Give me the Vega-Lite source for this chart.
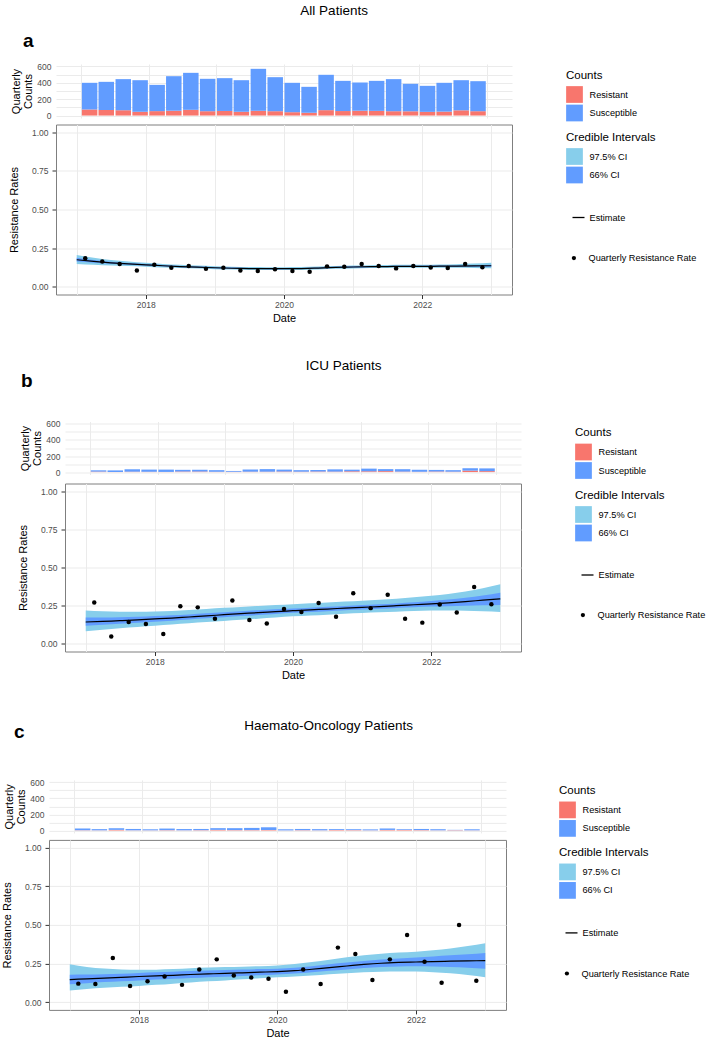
{
  "$schema": "https://vega.github.io/schema/vega-lite/v6.json",
  "background": "white",
  "padding": {"left": 0, "top": 3, "right": 0, "bottom": 2},
  "config": {
    "font": "Liberation Sans",
    "view": {"stroke": null},
    "axis": {"labelFont": "Liberation Sans", "labelFontSize": 8.5, "labelColor": "#4D4D4D", "titleFont": "Liberation Sans", "titleFontSize": 11, "titleFontWeight": "normal", "titleColor": "black", "gridColor": "#EBEBEB", "gridWidth": 1, "tickColor": "#333333", "domain": false, "labelOverlap": false},
    "legend": {"titleFont": "Liberation Sans", "labelFont": "Liberation Sans", "titleFontSize": 11.5, "titleFontWeight": "normal", "titleColor": "black", "labelFontSize": 9.2, "labelColor": "black", "padding": 0},
    "title": {"font": "Liberation Sans", "color": "black"}
  },
  "datasets": {
    "quarters": [
      {"g":"a","date":"2017-02-15","Resistant":74,"Susceptible":326,"rate":0.184},
      {"g":"a","date":"2017-05-16","Resistant":68,"Susceptible":344,"rate":0.164},
      {"g":"a","date":"2017-08-16","Resistant":65,"Susceptible":380,"rate":0.147},
      {"g":"a","date":"2017-11-15","Resistant":46,"Susceptible":386,"rate":0.106},
      {"g":"a","date":"2018-02-15","Resistant":54,"Susceptible":321,"rate":0.143},
      {"g":"a","date":"2018-05-16","Resistant":59,"Susceptible":422,"rate":0.123},
      {"g":"a","date":"2018-08-16","Resistant":70,"Susceptible":452,"rate":0.134},
      {"g":"a","date":"2018-11-15","Resistant":53,"Susceptible":396,"rate":0.117},
      {"g":"a","date":"2019-02-15","Resistant":56,"Susceptible":401,"rate":0.123},
      {"g":"a","date":"2019-05-16","Resistant":46,"Susceptible":386,"rate":0.106},
      {"g":"a","date":"2019-08-16","Resistant":58,"Susceptible":513,"rate":0.102},
      {"g":"a","date":"2019-11-15","Resistant":53,"Susceptible":416,"rate":0.114},
      {"g":"a","date":"2020-02-15","Resistant":41,"Susceptible":359,"rate":0.102},
      {"g":"a","date":"2020-05-16","Resistant":34,"Susceptible":317,"rate":0.097},
      {"g":"a","date":"2020-08-16","Resistant":66,"Susceptible":432,"rate":0.132},
      {"g":"a","date":"2020-11-15","Resistant":55,"Susceptible":369,"rate":0.130},
      {"g":"a","date":"2021-02-15","Resistant":59,"Susceptible":345,"rate":0.147},
      {"g":"a","date":"2021-05-16","Resistant":57,"Susceptible":367,"rate":0.134},
      {"g":"a","date":"2021-08-16","Resistant":53,"Susceptible":392,"rate":0.119},
      {"g":"a","date":"2021-11-15","Resistant":52,"Susceptible":336,"rate":0.134},
      {"g":"a","date":"2022-02-15","Resistant":45,"Susceptible":318,"rate":0.125},
      {"g":"a","date":"2022-05-16","Resistant":48,"Susceptible":352,"rate":0.121},
      {"g":"a","date":"2022-08-16","Resistant":64,"Susceptible":368,"rate":0.147},
      {"g":"a","date":"2022-11-15","Resistant":53,"Susceptible":367,"rate":0.127},
      {"g":"b","date":"2017-02-15","Resistant":6,"Susceptible":16,"rate":0.271},
      {"g":"b","date":"2017-05-16","Resistant":1,"Susceptible":20,"rate":0.048},
      {"g":"b","date":"2017-08-16","Resistant":5,"Susceptible":30,"rate":0.143},
      {"g":"b","date":"2017-11-15","Resistant":4,"Susceptible":27,"rate":0.130},
      {"g":"b","date":"2018-02-15","Resistant":2,"Susceptible":29,"rate":0.065},
      {"g":"b","date":"2018-05-16","Resistant":7,"Susceptible":21,"rate":0.247},
      {"g":"b","date":"2018-08-16","Resistant":7,"Susceptible":22,"rate":0.239},
      {"g":"b","date":"2018-11-15","Resistant":4,"Susceptible":20,"rate":0.165},
      {"g":"b","date":"2019-02-15","Resistant":4,"Susceptible":10,"rate":0.284},
      {"g":"b","date":"2019-05-16","Resistant":5,"Susceptible":27,"rate":0.156},
      {"g":"b","date":"2019-08-16","Resistant":5,"Susceptible":32,"rate":0.134},
      {"g":"b","date":"2019-11-15","Resistant":7,"Susceptible":24,"rate":0.228},
      {"g":"b","date":"2020-02-15","Resistant":5,"Susceptible":19,"rate":0.208},
      {"g":"b","date":"2020-05-16","Resistant":7,"Susceptible":19,"rate":0.267},
      {"g":"b","date":"2020-08-16","Resistant":6,"Susceptible":28,"rate":0.178},
      {"g":"b","date":"2020-11-15","Resistant":10,"Susceptible":20,"rate":0.332},
      {"g":"b","date":"2021-02-15","Resistant":10,"Susceptible":33,"rate":0.234},
      {"g":"b","date":"2021-05-16","Resistant":12,"Susceptible":25,"rate":0.321},
      {"g":"b","date":"2021-08-16","Resistant":6,"Susceptible":30,"rate":0.165},
      {"g":"b","date":"2021-11-15","Resistant":4,"Susceptible":25,"rate":0.139},
      {"g":"b","date":"2022-02-15","Resistant":7,"Susceptible":20,"rate":0.258},
      {"g":"b","date":"2022-05-16","Resistant":5,"Susceptible":19,"rate":0.206},
      {"g":"b","date":"2022-08-16","Resistant":18,"Susceptible":30,"rate":0.373},
      {"g":"b","date":"2022-11-15","Resistant":12,"Susceptible":34,"rate":0.260},
      {"g":"c","date":"2017-02-15","Resistant":3,"Susceptible":22,"rate":0.120},
      {"g":"c","date":"2017-05-16","Resistant":2,"Susceptible":15,"rate":0.118},
      {"g":"c","date":"2017-08-16","Resistant":8,"Susceptible":20,"rate":0.286},
      {"g":"c","date":"2017-11-15","Resistant":2,"Susceptible":17,"rate":0.105},
      {"g":"c","date":"2018-02-15","Resistant":2,"Susceptible":13,"rate":0.135},
      {"g":"c","date":"2018-05-16","Resistant":4,"Susceptible":20,"rate":0.166},
      {"g":"c","date":"2018-08-16","Resistant":2,"Susceptible":16,"rate":0.112},
      {"g":"c","date":"2018-11-15","Resistant":4,"Susceptible":15,"rate":0.211},
      {"g":"c","date":"2019-02-15","Resistant":8,"Susceptible":21,"rate":0.277},
      {"g":"c","date":"2019-05-16","Resistant":5,"Susceptible":24,"rate":0.172},
      {"g":"c","date":"2019-08-16","Resistant":5,"Susceptible":27,"rate":0.159},
      {"g":"c","date":"2019-11-15","Resistant":6,"Susceptible":34,"rate":0.151},
      {"g":"c","date":"2020-02-15","Resistant":1,"Susceptible":14,"rate":0.067},
      {"g":"c","date":"2020-05-16","Resistant":4,"Susceptible":15,"rate":0.211},
      {"g":"c","date":"2020-08-16","Resistant":2,"Susceptible":15,"rate":0.118},
      {"g":"c","date":"2020-11-15","Resistant":6,"Susceptible":11,"rate":0.353},
      {"g":"c","date":"2021-02-15","Resistant":5,"Susceptible":11,"rate":0.312},
      {"g":"c","date":"2021-05-16","Resistant":2,"Susceptible":12,"rate":0.144},
      {"g":"c","date":"2021-08-16","Resistant":7,"Susceptible":18,"rate":0.277},
      {"g":"c","date":"2021-11-15","Resistant":7,"Susceptible":9,"rate":0.434},
      {"g":"c","date":"2022-02-15","Resistant":5,"Susceptible":14,"rate":0.262},
      {"g":"c","date":"2022-05-16","Resistant":2,"Susceptible":14,"rate":0.125},
      {"g":"c","date":"2022-08-16","Resistant":4,"Susceptible":4,"rate":0.499},
      {"g":"c","date":"2022-11-15","Resistant":2,"Susceptible":13,"rate":0.138}
    ],
    "est": [
      {"g":"a","date":"2017-01-01","est":0.175,"lo97":0.148,"hi97":0.205,"lo66":0.163,"hi66":0.188},
      {"g":"a","date":"2017-04-01","est":0.164,"lo97":0.143,"hi97":0.187,"lo66":0.156,"hi66":0.173},
      {"g":"a","date":"2017-07-01","est":0.155,"lo97":0.138,"hi97":0.173,"lo66":0.149,"hi66":0.162},
      {"g":"a","date":"2017-10-01","est":0.148,"lo97":0.134,"hi97":0.163,"lo66":0.143,"hi66":0.154},
      {"g":"a","date":"2018-01-01","est":0.142,"lo97":0.130,"hi97":0.155,"lo66":0.137,"hi66":0.147},
      {"g":"a","date":"2018-04-01","est":0.136,"lo97":0.125,"hi97":0.148,"lo66":0.132,"hi66":0.141},
      {"g":"a","date":"2018-07-01","est":0.131,"lo97":0.121,"hi97":0.142,"lo66":0.127,"hi66":0.135},
      {"g":"a","date":"2018-10-01","est":0.127,"lo97":0.118,"hi97":0.137,"lo66":0.123,"hi66":0.131},
      {"g":"a","date":"2019-01-01","est":0.123,"lo97":0.114,"hi97":0.133,"lo66":0.120,"hi66":0.127},
      {"g":"a","date":"2019-04-01","est":0.120,"lo97":0.111,"hi97":0.130,"lo66":0.117,"hi66":0.124},
      {"g":"a","date":"2019-07-01","est":0.118,"lo97":0.109,"hi97":0.128,"lo66":0.115,"hi66":0.122},
      {"g":"a","date":"2019-10-01","est":0.117,"lo97":0.108,"hi97":0.127,"lo66":0.114,"hi66":0.121},
      {"g":"a","date":"2020-01-01","est":0.117,"lo97":0.108,"hi97":0.127,"lo66":0.114,"hi66":0.121},
      {"g":"a","date":"2020-04-01","est":0.118,"lo97":0.109,"hi97":0.128,"lo66":0.115,"hi66":0.122},
      {"g":"a","date":"2020-07-01","est":0.121,"lo97":0.112,"hi97":0.131,"lo66":0.118,"hi66":0.125},
      {"g":"a","date":"2020-10-01","est":0.125,"lo97":0.116,"hi97":0.135,"lo66":0.122,"hi66":0.129},
      {"g":"a","date":"2021-01-01","est":0.128,"lo97":0.119,"hi97":0.138,"lo66":0.125,"hi66":0.132},
      {"g":"a","date":"2021-04-01","est":0.130,"lo97":0.121,"hi97":0.140,"lo66":0.127,"hi66":0.134},
      {"g":"a","date":"2021-07-01","est":0.131,"lo97":0.122,"hi97":0.141,"lo66":0.128,"hi66":0.135},
      {"g":"a","date":"2021-10-01","est":0.132,"lo97":0.123,"hi97":0.142,"lo66":0.129,"hi66":0.136},
      {"g":"a","date":"2022-01-01","est":0.132,"lo97":0.123,"hi97":0.142,"lo66":0.129,"hi66":0.136},
      {"g":"a","date":"2022-04-01","est":0.133,"lo97":0.123,"hi97":0.144,"lo66":0.129,"hi66":0.137},
      {"g":"a","date":"2022-07-01","est":0.134,"lo97":0.123,"hi97":0.146,"lo66":0.130,"hi66":0.138},
      {"g":"a","date":"2022-10-01","est":0.135,"lo97":0.122,"hi97":0.150,"lo66":0.130,"hi66":0.140},
      {"g":"a","date":"2023-01-01","est":0.136,"lo97":0.120,"hi97":0.155,"lo66":0.130,"hi66":0.143},
      {"g":"b","date":"2017-01-01","est":0.143,"lo97":0.082,"hi97":0.218,"lo66":0.118,"hi66":0.172},
      {"g":"b","date":"2017-04-01","est":0.147,"lo97":0.093,"hi97":0.213,"lo66":0.125,"hi66":0.172},
      {"g":"b","date":"2017-07-01","est":0.152,"lo97":0.103,"hi97":0.210,"lo66":0.132,"hi66":0.174},
      {"g":"b","date":"2017-10-01","est":0.157,"lo97":0.111,"hi97":0.210,"lo66":0.139,"hi66":0.177},
      {"g":"b","date":"2018-01-01","est":0.163,"lo97":0.119,"hi97":0.212,"lo66":0.145,"hi66":0.182},
      {"g":"b","date":"2018-04-01","est":0.169,"lo97":0.127,"hi97":0.216,"lo66":0.152,"hi66":0.187},
      {"g":"b","date":"2018-07-01","est":0.176,"lo97":0.135,"hi97":0.221,"lo66":0.160,"hi66":0.193},
      {"g":"b","date":"2018-10-01","est":0.183,"lo97":0.143,"hi97":0.228,"lo66":0.167,"hi66":0.200},
      {"g":"b","date":"2019-01-01","est":0.191,"lo97":0.150,"hi97":0.236,"lo66":0.175,"hi66":0.207},
      {"g":"b","date":"2019-04-01","est":0.198,"lo97":0.158,"hi97":0.242,"lo66":0.182,"hi66":0.214},
      {"g":"b","date":"2019-07-01","est":0.204,"lo97":0.165,"hi97":0.248,"lo66":0.189,"hi66":0.220},
      {"g":"b","date":"2019-10-01","est":0.211,"lo97":0.172,"hi97":0.254,"lo66":0.196,"hi66":0.226},
      {"g":"b","date":"2020-01-01","est":0.217,"lo97":0.180,"hi97":0.260,"lo66":0.203,"hi66":0.232},
      {"g":"b","date":"2020-04-01","est":0.223,"lo97":0.186,"hi97":0.266,"lo66":0.209,"hi66":0.237},
      {"g":"b","date":"2020-07-01","est":0.228,"lo97":0.191,"hi97":0.271,"lo66":0.214,"hi66":0.243},
      {"g":"b","date":"2020-10-01","est":0.234,"lo97":0.197,"hi97":0.277,"lo66":0.220,"hi66":0.248},
      {"g":"b","date":"2021-01-01","est":0.239,"lo97":0.202,"hi97":0.282,"lo66":0.225,"hi66":0.254},
      {"g":"b","date":"2021-04-01","est":0.244,"lo97":0.207,"hi97":0.289,"lo66":0.230,"hi66":0.259},
      {"g":"b","date":"2021-07-01","est":0.250,"lo97":0.211,"hi97":0.296,"lo66":0.235,"hi66":0.265},
      {"g":"b","date":"2021-10-01","est":0.256,"lo97":0.215,"hi97":0.305,"lo66":0.240,"hi66":0.272},
      {"g":"b","date":"2022-01-01","est":0.262,"lo97":0.219,"hi97":0.315,"lo66":0.244,"hi66":0.280},
      {"g":"b","date":"2022-04-01","est":0.269,"lo97":0.219,"hi97":0.327,"lo66":0.247,"hi66":0.290},
      {"g":"b","date":"2022-07-01","est":0.277,"lo97":0.217,"hi97":0.343,"lo66":0.250,"hi66":0.302},
      {"g":"b","date":"2022-10-01","est":0.286,"lo97":0.213,"hi97":0.364,"lo66":0.253,"hi66":0.317},
      {"g":"b","date":"2023-01-01","est":0.295,"lo97":0.208,"hi97":0.390,"lo66":0.255,"hi66":0.335},
      {"g":"c","date":"2017-01-01","est":0.146,"lo97":0.075,"hi97":0.245,"lo66":0.116,"hi66":0.178},
      {"g":"c","date":"2017-04-01","est":0.151,"lo97":0.086,"hi97":0.228,"lo66":0.123,"hi66":0.179},
      {"g":"c","date":"2017-07-01","est":0.156,"lo97":0.094,"hi97":0.218,"lo66":0.130,"hi66":0.181},
      {"g":"c","date":"2017-10-01","est":0.161,"lo97":0.100,"hi97":0.212,"lo66":0.136,"hi66":0.184},
      {"g":"c","date":"2018-01-01","est":0.166,"lo97":0.105,"hi97":0.209,"lo66":0.141,"hi66":0.189},
      {"g":"c","date":"2018-04-01","est":0.170,"lo97":0.112,"hi97":0.210,"lo66":0.146,"hi66":0.193},
      {"g":"c","date":"2018-07-01","est":0.174,"lo97":0.120,"hi97":0.214,"lo66":0.151,"hi66":0.197},
      {"g":"c","date":"2018-10-01","est":0.179,"lo97":0.128,"hi97":0.219,"lo66":0.156,"hi66":0.201},
      {"g":"c","date":"2019-01-01","est":0.183,"lo97":0.135,"hi97":0.224,"lo66":0.161,"hi66":0.205},
      {"g":"c","date":"2019-04-01","est":0.186,"lo97":0.141,"hi97":0.227,"lo66":0.165,"hi66":0.208},
      {"g":"c","date":"2019-07-01","est":0.190,"lo97":0.148,"hi97":0.230,"lo66":0.170,"hi66":0.211},
      {"g":"c","date":"2019-10-01","est":0.194,"lo97":0.155,"hi97":0.233,"lo66":0.174,"hi66":0.214},
      {"g":"c","date":"2020-01-01","est":0.198,"lo97":0.161,"hi97":0.237,"lo66":0.179,"hi66":0.217},
      {"g":"c","date":"2020-04-01","est":0.204,"lo97":0.166,"hi97":0.247,"lo66":0.185,"hi66":0.223},
      {"g":"c","date":"2020-07-01","est":0.213,"lo97":0.172,"hi97":0.260,"lo66":0.193,"hi66":0.233},
      {"g":"c","date":"2020-10-01","est":0.224,"lo97":0.180,"hi97":0.275,"lo66":0.203,"hi66":0.245},
      {"g":"c","date":"2021-01-01","est":0.234,"lo97":0.187,"hi97":0.290,"lo66":0.212,"hi66":0.256},
      {"g":"c","date":"2021-04-01","est":0.244,"lo97":0.193,"hi97":0.303,"lo66":0.221,"hi66":0.267},
      {"g":"c","date":"2021-07-01","est":0.252,"lo97":0.197,"hi97":0.313,"lo66":0.228,"hi66":0.276},
      {"g":"c","date":"2021-10-01","est":0.257,"lo97":0.199,"hi97":0.321,"lo66":0.231,"hi66":0.283},
      {"g":"c","date":"2022-01-01","est":0.260,"lo97":0.198,"hi97":0.327,"lo66":0.232,"hi66":0.289},
      {"g":"c","date":"2022-04-01","est":0.263,"lo97":0.194,"hi97":0.336,"lo66":0.231,"hi66":0.296},
      {"g":"c","date":"2022-07-01","est":0.265,"lo97":0.187,"hi97":0.348,"lo66":0.228,"hi66":0.303},
      {"g":"c","date":"2022-10-01","est":0.267,"lo97":0.176,"hi97":0.363,"lo66":0.223,"hi66":0.310},
      {"g":"c","date":"2023-01-01","est":0.269,"lo97":0.161,"hi97":0.381,"lo66":0.217,"hi66":0.318}
    ]
  },
  "spacing": 34.5,
  "resolve": {"scale": {"fill": "independent", "stroke": "independent", "shape": "independent"}},
  "vconcat": [
    {
      "spacing": 0,
      "resolve": {"scale": {"fill": "independent", "stroke": "independent", "shape": "independent"}},
      "hconcat": [
        {"width": 8, "height": 10, "data": {"values": []}, "mark": "point"},
        {
          "title": {"text": "All Patients", "anchor": "middle", "fontSize": 13.5, "fontWeight": "normal", "baseline": "alphabetic", "offset": 4, "dx": -18.5},
          "bounds": "flush",
          "spacing": 6.5,
          "resolve": {"scale": {"fill": "independent", "stroke": "independent", "shape": "independent"}},
          "vconcat": [
            {
              "width": 456, "height": 54,
              "title": {"text": "a", "anchor": "start", "frame": "group", "fontSize": 19, "fontWeight": "bold", "baseline": "alphabetic", "offset": -4, "dx": -33},
              "data": {"name": "quarters"},
              "transform": [{"filter": "datum.g == 'a'"}, {"fold": ["Resistant", "Susceptible"], "as": ["status", "n"]}],
              "mark": {"type": "bar", "width": 15.5},
              "encoding": {
                "x": {"field": "date", "type": "temporal", "scale": {"type": "utc", "domain": [{"year": 2016, "month": 9, "date": 13, "hours": 11, "utc": true}, {"year": 2023, "month": 4, "date": 20, "hours": 13, "utc": true}]}, "axis": {"values": [{"year": 2017, "utc": true}, {"year": 2018, "utc": true}, {"year": 2019, "utc": true}, {"year": 2020, "utc": true}, {"year": 2021, "utc": true}, {"year": 2022, "utc": true}, {"year": 2023, "utc": true}], "labels": false, "ticks": false, "title": null, "grid": true}},
                "y": {"field": "n", "type": "quantitative", "stack": "zero", "scale": {"domain": [-30, 630], "nice": false, "zero": false}, "axis": {"values": [0, 100, 200, 300, 400, 500, 600], "title": ["Quarterly", "Counts"], "titleLineHeight": 12.5, "grid": true, "ticks": false, "labelExpr": "datum.value % 200 == 0 ? format(datum.value, 'd') : ''", "labelPadding": 5, "titlePadding": 3}},
                "fill": {"field": "status", "type": "nominal", "scale": {"domain": ["Resistant", "Susceptible"], "range": ["#F8766D", "#619CFF"]}, "legend": {"title": "Counts", "orient": "none", "legendX": 510, "legendY": 5.5, "symbolType": "square", "symbolSize": 280, "symbolStrokeWidth": 0, "symbolOpacity": 1, "labelOffset": 6.5, "titlePadding": 5, "rowPadding": 1.5}},
                "order": {"field": "status", "sort": "ascending"}
              }
            },
            {
              "width": 456, "height": 170,
              "view": {"stroke": "#7F7F7F", "strokeWidth": 1},
              "encoding": {
                "x": {"field": "date", "type": "temporal", "scale": {"type": "utc", "domain": [{"year": 2016, "month": 9, "date": 13, "hours": 11, "utc": true}, {"year": 2023, "month": 4, "date": 20, "hours": 13, "utc": true}]}, "axis": {"values": [{"year": 2017, "utc": true}, {"year": 2018, "utc": true}, {"year": 2019, "utc": true}, {"year": 2020, "utc": true}, {"year": 2021, "utc": true}, {"year": 2022, "utc": true}, {"year": 2023, "utc": true}], "title": "Date", "grid": true, "labelExpr": "utcyear(datum.value) % 2 == 0 ? utcFormat(datum.value, '%Y') : ''", "tickOpacity": {"condition": {"test": "utcyear(datum.value) % 2 == 1", "value": 0}, "value": 1}, "tickSize": 4, "labelPadding": 2, "titlePadding": 3, "labelFlush": false}}
              },
              "layer": [
                {
                  "data": {"name": "est"},
                  "transform": [{"filter": "datum.g == 'a'"}],
                  "mark": {"type": "area", "interpolate": "monotone"},
                  "encoding": {
                    "y": {"field": "lo97", "type": "quantitative", "scale": {"domain": [-0.05, 1.05], "nice": false, "zero": false}, "axis": {"values": [0, 0.125, 0.25, 0.375, 0.5, 0.625, 0.75, 0.875, 1], "title": "Resistance Rates", "grid": true, "labelExpr": "datum.value * 4 % 1 == 0 ? format(datum.value, '.2f') : ''", "tickOpacity": {"condition": {"test": "datum.value * 4 % 1 != 0", "value": 0}, "value": 1}, "tickSize": 4, "labelPadding": 4, "titlePadding": 11.5}},
                    "y2": {"field": "hi97"},
                    "fill": {"datum": "97.5% CI", "scale": {"domain": ["97.5% CI", "66% CI"], "range": ["#87CEEB", "#619CFF"]}, "legend": {"title": "Credible Intervals", "orient": "none", "legendX": 510, "legendY": 7, "symbolType": "square", "symbolSize": 280, "symbolStrokeWidth": 0, "symbolOpacity": 1, "labelOffset": 6.5, "titlePadding": 5, "rowPadding": 1.5}}
                  }
                },
                {
                  "data": {"name": "est"},
                  "transform": [{"filter": "datum.g == 'a'"}],
                  "mark": {"type": "area", "interpolate": "monotone"},
                  "encoding": {"y": {"field": "lo66", "type": "quantitative"}, "y2": {"field": "hi66"}, "fill": {"datum": "66% CI"}}
                },
                {
                  "data": {"name": "est"},
                  "transform": [{"filter": "datum.g == 'a'"}],
                  "mark": {"type": "line", "interpolate": "monotone", "strokeWidth": 1.2},
                  "encoding": {"y": {"field": "est", "type": "quantitative"}, "stroke": {"datum": "Estimate", "scale": {"domain": ["Estimate"], "range": ["black"]}, "legend": {"title": null, "orient": "none", "legendX": 515.5, "legendY": 86, "symbolType": "stroke", "symbolSize": 144, "symbolStrokeWidth": 1.3, "labelOffset": 4}}}
                },
                {
                  "data": {"name": "quarters"},
                  "transform": [{"filter": "datum.g == 'a'"}],
                  "mark": {"type": "point", "filled": true, "size": 20, "opacity": 1, "color": "black"},
                  "encoding": {"y": {"field": "rate", "type": "quantitative"}, "shape": {"datum": "Quarterly Resistance Rate", "scale": {"domain": ["Quarterly Resistance Rate"], "range": ["circle"]}, "legend": {"title": null, "orient": "none", "legendX": 513.3, "legendY": 129, "symbolSize": 18, "symbolFillColor": "black", "symbolStrokeWidth": 0, "symbolOpacity": 1, "labelOffset": 10}}}
                }
              ]
            }
          ]
        }
      ]
    },
    {
      "spacing": 37.4,
      "resolve": {"scale": {"fill": "independent", "stroke": "independent", "shape": "independent"}},
      "vconcat": [
        {
          "spacing": 0,
          "resolve": {"scale": {"fill": "independent", "stroke": "independent", "shape": "independent"}},
          "hconcat": [
            {"width": 17, "height": 10, "data": {"values": []}, "mark": "point"},
            {
              "title": {"text": "ICU Patients", "anchor": "middle", "fontSize": 13.5, "fontWeight": "normal", "baseline": "alphabetic", "offset": -12, "dx": -18},
              "bounds": "flush",
              "spacing": 9,
              "resolve": {"scale": {"fill": "independent", "stroke": "independent", "shape": "independent"}},
              "vconcat": [
                {
                  "width": 456, "height": 53,
                  "title": {"text": "b", "anchor": "start", "frame": "group", "fontSize": 19, "fontWeight": "bold", "baseline": "alphabetic", "offset": 14.2, "dx": -44},
                  "data": {"name": "quarters"},
                  "transform": [{"filter": "datum.g == 'b'"}, {"fold": ["Resistant", "Susceptible"], "as": ["status", "n"]}],
                  "mark": {"type": "bar", "width": 15.5},
                  "encoding": {
                    "x": {"field": "date", "type": "temporal", "scale": {"type": "utc", "domain": [{"year": 2016, "month": 9, "date": 13, "hours": 11, "utc": true}, {"year": 2023, "month": 4, "date": 20, "hours": 13, "utc": true}]}, "axis": {"values": [{"year": 2017, "utc": true}, {"year": 2018, "utc": true}, {"year": 2019, "utc": true}, {"year": 2020, "utc": true}, {"year": 2021, "utc": true}, {"year": 2022, "utc": true}, {"year": 2023, "utc": true}], "labels": false, "ticks": false, "title": null, "grid": true}},
                    "y": {"field": "n", "type": "quantitative", "stack": "zero", "scale": {"domain": [-30, 630], "nice": false, "zero": false}, "axis": {"values": [0, 100, 200, 300, 400, 500, 600], "title": ["Quarterly", "Counts"], "titleLineHeight": 12.5, "grid": true, "ticks": false, "labelExpr": "datum.value % 200 == 0 ? format(datum.value, 'd') : ''", "labelPadding": 5, "titlePadding": 3}},
                    "fill": {"field": "status", "type": "nominal", "scale": {"domain": ["Resistant", "Susceptible"], "range": ["#F8766D", "#619CFF"]}, "legend": {"title": "Counts", "orient": "none", "legendX": 510, "legendY": 5.5, "symbolType": "square", "symbolSize": 280, "symbolStrokeWidth": 0, "symbolOpacity": 1, "labelOffset": 6.5, "titlePadding": 5, "rowPadding": 1.5}},
                    "order": {"field": "status", "sort": "ascending"}
                  }
                },
                {
                  "width": 456, "height": 168,
                  "view": {"stroke": "#7F7F7F", "strokeWidth": 1},
                  "encoding": {
                    "x": {"field": "date", "type": "temporal", "scale": {"type": "utc", "domain": [{"year": 2016, "month": 9, "date": 13, "hours": 11, "utc": true}, {"year": 2023, "month": 4, "date": 20, "hours": 13, "utc": true}]}, "axis": {"values": [{"year": 2017, "utc": true}, {"year": 2018, "utc": true}, {"year": 2019, "utc": true}, {"year": 2020, "utc": true}, {"year": 2021, "utc": true}, {"year": 2022, "utc": true}, {"year": 2023, "utc": true}], "title": "Date", "grid": true, "labelExpr": "utcyear(datum.value) % 2 == 0 ? utcFormat(datum.value, '%Y') : ''", "tickOpacity": {"condition": {"test": "utcyear(datum.value) % 2 == 1", "value": 0}, "value": 1}, "tickSize": 4, "labelPadding": 2, "titlePadding": 3, "labelFlush": false}}
                  },
                  "layer": [
                    {
                      "data": {"name": "est"},
                      "transform": [{"filter": "datum.g == 'b'"}],
                      "mark": {"type": "area", "interpolate": "monotone"},
                      "encoding": {
                        "y": {"field": "lo97", "type": "quantitative", "scale": {"domain": [-0.05, 1.05], "nice": false, "zero": false}, "axis": {"values": [0, 0.125, 0.25, 0.375, 0.5, 0.625, 0.75, 0.875, 1], "title": "Resistance Rates", "grid": true, "labelExpr": "datum.value * 4 % 1 == 0 ? format(datum.value, '.2f') : ''", "tickOpacity": {"condition": {"test": "datum.value * 4 % 1 != 0", "value": 0}, "value": 1}, "tickSize": 4, "labelPadding": 4, "titlePadding": 11.5}},
                        "y2": {"field": "hi97"},
                        "fill": {"datum": "97.5% CI", "scale": {"domain": ["97.5% CI", "66% CI"], "range": ["#87CEEB", "#619CFF"]}, "legend": {"title": "Credible Intervals", "orient": "none", "legendX": 510, "legendY": 6, "symbolType": "square", "symbolSize": 280, "symbolStrokeWidth": 0, "symbolOpacity": 1, "labelOffset": 6.5, "titlePadding": 5, "rowPadding": 1.5}}
                      }
                    },
                    {
                      "data": {"name": "est"},
                      "transform": [{"filter": "datum.g == 'b'"}],
                      "mark": {"type": "area", "interpolate": "monotone"},
                      "encoding": {"y": {"field": "lo66", "type": "quantitative"}, "y2": {"field": "hi66"}, "fill": {"datum": "66% CI"}}
                    },
                    {
                      "data": {"name": "est"},
                      "transform": [{"filter": "datum.g == 'b'"}],
                      "mark": {"type": "line", "interpolate": "monotone", "strokeWidth": 1.2},
                      "encoding": {"y": {"field": "est", "type": "quantitative"}, "stroke": {"datum": "Estimate", "scale": {"domain": ["Estimate"], "range": ["black"]}, "legend": {"title": null, "orient": "none", "legendX": 515.5, "legendY": 84.5, "symbolType": "stroke", "symbolSize": 144, "symbolStrokeWidth": 1.3, "labelOffset": 4}}}
                    },
                    {
                      "data": {"name": "quarters"},
                      "transform": [{"filter": "datum.g == 'b'"}],
                      "mark": {"type": "point", "filled": true, "size": 20, "opacity": 1, "color": "black"},
                      "encoding": {"y": {"field": "rate", "type": "quantitative"}, "shape": {"datum": "Quarterly Resistance Rate", "scale": {"domain": ["Quarterly Resistance Rate"], "range": ["circle"]}, "legend": {"title": null, "orient": "none", "legendX": 513.3, "legendY": 127, "symbolSize": 18, "symbolFillColor": "black", "symbolStrokeWidth": 0, "symbolOpacity": 1, "labelOffset": 10}}}
                    }
                  ]
                }
              ]
            }
          ]
        },
        {
          "spacing": 0,
          "resolve": {"scale": {"fill": "independent", "stroke": "independent", "shape": "independent"}},
          "hconcat": [
            {"width": 1, "height": 10, "data": {"values": []}, "mark": "point"},
            {
              "title": {"text": "Haemato-Oncology Patients", "anchor": "middle", "fontSize": 13.5, "fontWeight": "normal", "baseline": "alphabetic", "offset": -20, "dx": -17},
              "bounds": "flush",
              "spacing": 7,
              "resolve": {"scale": {"fill": "independent", "stroke": "independent", "shape": "independent"}},
              "vconcat": [
                {
                  "width": 457, "height": 53,
                  "title": {"text": "c", "anchor": "start", "frame": "group", "fontSize": 19, "fontWeight": "bold", "baseline": "alphabetic", "offset": 21.2, "dx": -35},
                  "data": {"name": "quarters"},
                  "transform": [{"filter": "datum.g == 'c'"}, {"fold": ["Resistant", "Susceptible"], "as": ["status", "n"]}],
                  "mark": {"type": "bar", "width": 15.5},
                  "encoding": {
                    "x": {"field": "date", "type": "temporal", "scale": {"type": "utc", "domain": [{"year": 2016, "month": 9, "date": 13, "hours": 11, "utc": true}, {"year": 2023, "month": 4, "date": 20, "hours": 13, "utc": true}]}, "axis": {"values": [{"year": 2017, "utc": true}, {"year": 2018, "utc": true}, {"year": 2019, "utc": true}, {"year": 2020, "utc": true}, {"year": 2021, "utc": true}, {"year": 2022, "utc": true}, {"year": 2023, "utc": true}], "labels": false, "ticks": false, "title": null, "grid": true}},
                    "y": {"field": "n", "type": "quantitative", "stack": "zero", "scale": {"domain": [-30, 630], "nice": false, "zero": false}, "axis": {"values": [0, 100, 200, 300, 400, 500, 600], "title": ["Quarterly", "Counts"], "titleLineHeight": 12.5, "grid": true, "ticks": false, "labelExpr": "datum.value % 200 == 0 ? format(datum.value, 'd') : ''", "labelPadding": 5, "titlePadding": 3}},
                    "fill": {"field": "status", "type": "nominal", "scale": {"domain": ["Resistant", "Susceptible"], "range": ["#F8766D", "#619CFF"]}, "legend": {"title": "Counts", "orient": "none", "legendX": 510, "legendY": 5, "symbolType": "square", "symbolSize": 280, "symbolStrokeWidth": 0, "symbolOpacity": 1, "labelOffset": 6.5, "titlePadding": 5, "rowPadding": 1.5}},
                    "order": {"field": "status", "sort": "ascending"}
                  }
                },
                {
                  "width": 457, "height": 170,
                  "view": {"stroke": "#7F7F7F", "strokeWidth": 1},
                  "encoding": {
                    "x": {"field": "date", "type": "temporal", "scale": {"type": "utc", "domain": [{"year": 2016, "month": 9, "date": 13, "hours": 11, "utc": true}, {"year": 2023, "month": 4, "date": 20, "hours": 13, "utc": true}]}, "axis": {"values": [{"year": 2017, "utc": true}, {"year": 2018, "utc": true}, {"year": 2019, "utc": true}, {"year": 2020, "utc": true}, {"year": 2021, "utc": true}, {"year": 2022, "utc": true}, {"year": 2023, "utc": true}], "title": "Date", "grid": true, "labelExpr": "utcyear(datum.value) % 2 == 0 ? utcFormat(datum.value, '%Y') : ''", "tickOpacity": {"condition": {"test": "utcyear(datum.value) % 2 == 1", "value": 0}, "value": 1}, "tickSize": 4, "labelPadding": 2, "titlePadding": 3, "labelFlush": false}}
                  },
                  "layer": [
                    {
                      "data": {"name": "est"},
                      "transform": [{"filter": "datum.g == 'c'"}],
                      "mark": {"type": "area", "interpolate": "monotone"},
                      "encoding": {
                        "y": {"field": "lo97", "type": "quantitative", "scale": {"domain": [-0.05, 1.05], "nice": false, "zero": false}, "axis": {"values": [0, 0.125, 0.25, 0.375, 0.5, 0.625, 0.75, 0.875, 1], "title": "Resistance Rates", "grid": true, "labelExpr": "datum.value * 4 % 1 == 0 ? format(datum.value, '.2f') : ''", "tickOpacity": {"condition": {"test": "datum.value * 4 % 1 != 0", "value": 0}, "value": 1}, "tickSize": 4, "labelPadding": 4, "titlePadding": 11.5}},
                        "y2": {"field": "hi97"},
                        "fill": {"datum": "97.5% CI", "scale": {"domain": ["97.5% CI", "66% CI"], "range": ["#87CEEB", "#619CFF"]}, "legend": {"title": "Credible Intervals", "orient": "none", "legendX": 510, "legendY": 7, "symbolType": "square", "symbolSize": 280, "symbolStrokeWidth": 0, "symbolOpacity": 1, "labelOffset": 6.5, "titlePadding": 5, "rowPadding": 1.5}}
                      }
                    },
                    {
                      "data": {"name": "est"},
                      "transform": [{"filter": "datum.g == 'c'"}],
                      "mark": {"type": "area", "interpolate": "monotone"},
                      "encoding": {"y": {"field": "lo66", "type": "quantitative"}, "y2": {"field": "hi66"}, "fill": {"datum": "66% CI"}}
                    },
                    {
                      "data": {"name": "est"},
                      "transform": [{"filter": "datum.g == 'c'"}],
                      "mark": {"type": "line", "interpolate": "monotone", "strokeWidth": 1.2},
                      "encoding": {"y": {"field": "est", "type": "quantitative"}, "stroke": {"datum": "Estimate", "scale": {"domain": ["Estimate"], "range": ["black"]}, "legend": {"title": null, "orient": "none", "legendX": 515.5, "legendY": 86, "symbolType": "stroke", "symbolSize": 144, "symbolStrokeWidth": 1.3, "labelOffset": 4}}}
                    },
                    {
                      "data": {"name": "quarters"},
                      "transform": [{"filter": "datum.g == 'c'"}],
                      "mark": {"type": "point", "filled": true, "size": 20, "opacity": 1, "color": "black"},
                      "encoding": {"y": {"field": "rate", "type": "quantitative"}, "shape": {"datum": "Quarterly Resistance Rate", "scale": {"domain": ["Quarterly Resistance Rate"], "range": ["circle"]}, "legend": {"title": null, "orient": "none", "legendX": 513.3, "legendY": 129, "symbolSize": 18, "symbolFillColor": "black", "symbolStrokeWidth": 0, "symbolOpacity": 1, "labelOffset": 10}}}
                    }
                  ]
                }
              ]
            }
          ]
        }
      ]
    }
  ]
}
